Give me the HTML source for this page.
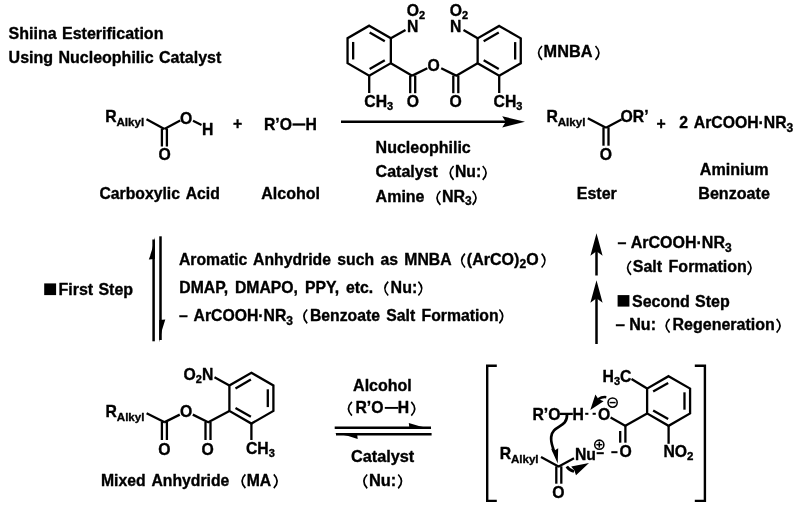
<!DOCTYPE html>
<html><head><meta charset="utf-8"><title>Shiina Esterification</title>
<style>
html,body{margin:0;padding:0;background:#fff;}
body{width:800px;height:508px;overflow:hidden;}
svg{display:block;filter:blur(0.35px);}
svg text{word-spacing:2px;font-family:"Liberation Sans",sans-serif;font-weight:bold;fill:#000;stroke:#000;stroke-width:0.35px;stroke-linejoin:round;white-space:pre;}
</style></head><body>
<svg width="800" height="508" viewBox="0 0 800 508">
<rect width="800" height="508" fill="#fff"/>
<text x="8.60" y="39.00" font-size="16" text-anchor="start" style="word-spacing:1px">Shiina Esterification</text>
<text x="8.60" y="62.60" font-size="16" text-anchor="start" style="word-spacing:1px">Using Nucleophilic Catalyst</text>
<text x="105.30" y="121.90" font-size="15.75" text-anchor="start" >R<tspan font-size="11.6" dx="-0.2" style="baseline-shift:-4.0px">Alkyl</tspan></text>
<line x1="146.50" y1="119.30" x2="164.40" y2="129.00" stroke="#000" stroke-width="2.3" stroke-linecap="butt"/>
<line x1="164.40" y1="129.00" x2="180.20" y2="120.60" stroke="#000" stroke-width="2.3" stroke-linecap="butt"/>
<text x="180.00" y="123.50" font-size="15.75" text-anchor="start" >O</text>
<line x1="193.00" y1="120.80" x2="201.50" y2="125.00" stroke="#000" stroke-width="2.3" stroke-linecap="butt"/>
<text x="202.00" y="134.60" font-size="15.75" text-anchor="start" >H</text>
<line x1="161.90" y1="128.50" x2="161.90" y2="146.50" stroke="#000" stroke-width="2.3" stroke-linecap="butt"/>
<line x1="166.90" y1="128.50" x2="166.90" y2="146.50" stroke="#000" stroke-width="2.3" stroke-linecap="butt"/>
<text x="158.60" y="160.00" font-size="15.75" text-anchor="start" >O</text>
<text x="233.00" y="129.00" font-size="15.75" text-anchor="start" >+</text>
<text x="264.00" y="130.00" font-size="15.75" text-anchor="start" >R’O</text>
<line x1="292.50" y1="124.50" x2="305.30" y2="124.50" stroke="#000" stroke-width="2.3" stroke-linecap="butt"/>
<text x="305.40" y="130.00" font-size="15.75" text-anchor="start" >H</text>
<text x="99.40" y="198.80" font-size="15.75" text-anchor="start" >Carboxylic Acid</text>
<text x="261.30" y="198.80" font-size="16" text-anchor="start" >Alcohol</text>
<path d="M369.20,25.70 L390.85,38.20 L390.85,63.20 L369.20,75.70 L347.55,63.20 L347.55,38.20 Z" fill="none" stroke="#000" stroke-width="2.3" stroke-linejoin="miter"/>
<line x1="369.65" y1="32.42" x2="384.80" y2="41.17" stroke="#000" stroke-width="2.3" stroke-linecap="butt"/>
<line x1="384.80" y1="60.23" x2="369.65" y2="68.98" stroke="#000" stroke-width="2.3" stroke-linecap="butt"/>
<line x1="353.15" y1="59.45" x2="353.15" y2="41.95" stroke="#000" stroke-width="2.3" stroke-linecap="butt"/>
<line x1="390.85" y1="38.20" x2="405.50" y2="30.00" stroke="#000" stroke-width="2.3" stroke-linecap="butt"/>
<text x="407.00" y="32.00" font-size="15.75" text-anchor="start" >N</text>
<text x="406.80" y="15.70" font-size="15.75" text-anchor="start" >O<tspan font-size="11" dx="0" style="baseline-shift:-2.8px">2</tspan></text>
<line x1="390.85" y1="63.20" x2="412.60" y2="75.90" stroke="#000" stroke-width="2.3" stroke-linecap="butt"/>
<line x1="412.30" y1="75.60" x2="427.30" y2="68.20" stroke="#000" stroke-width="2.3" stroke-linecap="butt"/>
<text x="427.60" y="70.60" font-size="15.75" text-anchor="start" >O</text>
<line x1="410.20" y1="75.50" x2="410.20" y2="93.20" stroke="#000" stroke-width="2.3" stroke-linecap="butt"/>
<line x1="415.20" y1="75.50" x2="415.20" y2="93.20" stroke="#000" stroke-width="2.3" stroke-linecap="butt"/>
<text x="406.80" y="107.00" font-size="15.75" text-anchor="start" >O</text>
<line x1="369.20" y1="75.75" x2="369.20" y2="93.00" stroke="#000" stroke-width="2.3" stroke-linecap="butt"/>
<text x="364.30" y="107.30" font-size="15.75" text-anchor="start" >CH<tspan font-size="11" dx="0" style="baseline-shift:-3px">3</tspan></text>
<path d="M499.20,25.90 L520.76,38.35 L520.76,63.25 L499.20,75.70 L477.64,63.25 L477.64,38.35 Z" fill="none" stroke="#000" stroke-width="2.3" stroke-linejoin="miter"/>
<line x1="515.16" y1="42.09" x2="515.16" y2="59.51" stroke="#000" stroke-width="2.3" stroke-linecap="butt"/>
<line x1="498.77" y1="68.98" x2="483.67" y2="60.27" stroke="#000" stroke-width="2.3" stroke-linecap="butt"/>
<line x1="483.67" y1="41.33" x2="498.77" y2="32.62" stroke="#000" stroke-width="2.3" stroke-linecap="butt"/>
<line x1="477.64" y1="38.35" x2="463.50" y2="30.00" stroke="#000" stroke-width="2.3" stroke-linecap="butt"/>
<text x="450.00" y="32.00" font-size="15.75" text-anchor="start" >N</text>
<text x="449.80" y="15.70" font-size="15.75" text-anchor="start" >O<tspan font-size="11" dx="0" style="baseline-shift:-2.8px">2</tspan></text>
<line x1="477.64" y1="63.25" x2="455.80" y2="75.90" stroke="#000" stroke-width="2.3" stroke-linecap="butt"/>
<line x1="456.10" y1="75.60" x2="441.20" y2="68.20" stroke="#000" stroke-width="2.3" stroke-linecap="butt"/>
<line x1="453.30" y1="75.50" x2="453.30" y2="93.20" stroke="#000" stroke-width="2.3" stroke-linecap="butt"/>
<line x1="458.30" y1="75.50" x2="458.30" y2="93.20" stroke="#000" stroke-width="2.3" stroke-linecap="butt"/>
<text x="449.60" y="107.00" font-size="15.75" text-anchor="start" >O</text>
<line x1="499.20" y1="75.70" x2="499.20" y2="93.00" stroke="#000" stroke-width="2.3" stroke-linecap="butt"/>
<text x="493.60" y="106.60" font-size="15.75" text-anchor="start" >CH<tspan font-size="11" dx="0" style="baseline-shift:-3px">3</tspan></text>
<path d="M542.00,46.00 Q535.20,52.90 542.00,59.80" fill="none" stroke="#000" stroke-width="1.65" />
<text x="543.60" y="57.20" font-size="16.3" text-anchor="start" >MNBA</text>
<path d="M595.50,46.00 Q602.30,52.90 595.50,59.80" fill="none" stroke="#000" stroke-width="1.65" />
<line x1="341.00" y1="121.80" x2="510.00" y2="121.80" stroke="#000" stroke-width="2.5" stroke-linecap="butt"/>
<path d="M525,121.8 L502.2,116.2 L505.8,121.8 L502.2,127.4 Z" fill="#000"  />
<text x="375.60" y="152.60" font-size="16" text-anchor="start" >Nucleophilic</text>
<text x="375.60" y="177.30" font-size="16" text-anchor="start" >Catalyst</text>
<path d="M453.60,166.00 Q446.80,172.90 453.60,179.80" fill="none" stroke="#000" stroke-width="1.65" />
<text x="455.00" y="177.30" font-size="15.75" text-anchor="start" >Nu:</text>
<path d="M482.70,166.00 Q489.50,172.90 482.70,179.80" fill="none" stroke="#000" stroke-width="1.65" />
<text x="375.60" y="202.30" font-size="16" text-anchor="start" >Amine</text>
<path d="M440.40,191.00 Q433.60,197.90 440.40,204.80" fill="none" stroke="#000" stroke-width="1.65" />
<text x="442.00" y="202.30" font-size="16" text-anchor="start" >NR<tspan font-size="12" dx="0" style="baseline-shift:-3.3px">3</tspan></text>
<path d="M472.60,191.00 Q479.40,197.90 472.60,204.80" fill="none" stroke="#000" stroke-width="1.65" />
<text x="546.50" y="121.50" font-size="15.75" text-anchor="start" >R<tspan font-size="11.6" dx="-0.2" style="baseline-shift:-4.0px">Alkyl</tspan></text>
<line x1="587.80" y1="118.20" x2="606.00" y2="127.80" stroke="#000" stroke-width="2.3" stroke-linecap="butt"/>
<line x1="606.00" y1="127.80" x2="621.50" y2="119.60" stroke="#000" stroke-width="2.3" stroke-linecap="butt"/>
<text x="620.50" y="121.90" font-size="15.75" text-anchor="start" >OR’</text>
<line x1="603.50" y1="127.30" x2="603.50" y2="145.70" stroke="#000" stroke-width="2.3" stroke-linecap="butt"/>
<line x1="608.50" y1="127.30" x2="608.50" y2="145.70" stroke="#000" stroke-width="2.3" stroke-linecap="butt"/>
<text x="599.80" y="159.80" font-size="15.75" text-anchor="start" >O</text>
<text x="656.60" y="128.80" font-size="15.75" text-anchor="start" >+</text>
<text x="679.30" y="127.80" font-size="15.75" text-anchor="start" >2 ArCOOH·NR<tspan font-size="12" dx="0" style="baseline-shift:-3.5px">3</tspan></text>
<text x="699.80" y="174.80" font-size="16.1" text-anchor="start" >Aminium</text>
<text x="698.30" y="198.70" font-size="16.1" text-anchor="start" >Benzoate</text>
<text x="576.80" y="198.70" font-size="16" text-anchor="start" >Ester</text>
<line x1="153.60" y1="239.50" x2="153.60" y2="341.30" stroke="#000" stroke-width="2.5" stroke-linecap="butt"/>
<path d="M154.85,237.2 L154.85,259 L148.8,259.5 Q152.6,250 154.85,237.2 Z" fill="#000"  />
<line x1="160.50" y1="236.30" x2="160.50" y2="340.00" stroke="#000" stroke-width="2.5" stroke-linecap="butt"/>
<path d="M159.25,342.3 L159.25,320 L165.3,319.5 Q161.5,330 159.25,342.3 Z" fill="#000"  />
<rect x="44.2" y="283.4" width="11.9" height="11.7" fill="#000"/>
<text x="58.50" y="294.90" font-size="16" text-anchor="start" style="word-spacing:0.8px">First Step</text>
<text x="179.00" y="265.00" font-size="15.75" text-anchor="start" >Aromatic Anhydride such as MNBA</text>
<path d="M465.00,253.70 Q458.20,260.60 465.00,267.50" fill="none" stroke="#000" stroke-width="1.65" />
<text x="466.80" y="265.00" font-size="16" text-anchor="start" >(ArCO)<tspan font-size="12" dx="0.3" style="baseline-shift:-3px">2</tspan>O</text>
<path d="M541.60,253.70 Q548.40,260.60 541.60,267.50" fill="none" stroke="#000" stroke-width="1.65" />
<text x="179.30" y="293.00" font-size="15.75" text-anchor="start" style="word-spacing:2.6px">DMAP, DMAPO, PPY, etc.</text>
<path d="M388.20,281.70 Q381.40,288.60 388.20,295.50" fill="none" stroke="#000" stroke-width="1.65" />
<text x="390.60" y="293.00" font-size="16" text-anchor="start" >Nu:</text>
<path d="M418.40,281.70 Q425.20,288.60 418.40,295.50" fill="none" stroke="#000" stroke-width="1.65" />
<text x="179.00" y="320.80" font-size="15.75" text-anchor="start" >– ArCOOH·NR<tspan font-size="12" dx="0" style="baseline-shift:-3.5px">3</tspan></text>
<path d="M307.20,309.50 Q300.40,316.40 307.20,323.30" fill="none" stroke="#000" stroke-width="1.65" />
<text x="309.90" y="320.80" font-size="15.75" text-anchor="start" >Benzoate Salt Formation</text>
<path d="M499.40,309.50 Q506.20,316.40 499.40,323.30" fill="none" stroke="#000" stroke-width="1.65" />
<line x1="596.50" y1="247.20" x2="596.50" y2="275.50" stroke="#000" stroke-width="2.5" stroke-linecap="butt"/>
<path d="M596.5,233.2 L602.6,255.7 L596.5,251.2 L590.4,255.7 Z" fill="#000"  />
<line x1="596.50" y1="294.30" x2="596.50" y2="344.00" stroke="#000" stroke-width="2.5" stroke-linecap="butt"/>
<path d="M596.5,280.3 L602.6,302.8 L596.5,298.3 L590.4,302.8 Z" fill="#000"  />
<text x="617.60" y="248.00" font-size="16" text-anchor="start" style="word-spacing:0.4px">– ArCOOH·NR<tspan font-size="12" dx="0" style="baseline-shift:-3.5px">3</tspan></text>
<path d="M631.00,261.00 Q624.20,267.90 631.00,274.80" fill="none" stroke="#000" stroke-width="1.65" />
<text x="632.80" y="272.30" font-size="16" text-anchor="start" >Salt Formation</text>
<path d="M747.60,261.00 Q754.40,267.90 747.60,274.80" fill="none" stroke="#000" stroke-width="1.65" />
<rect x="617.6" y="295.1" width="11.8" height="11.5" fill="#000"/>
<text x="632.00" y="306.80" font-size="16" text-anchor="start" style="word-spacing:0.8px">Second Step</text>
<text x="615.60" y="330.40" font-size="17" text-anchor="start" >–</text>
<text x="629.30" y="330.40" font-size="16" text-anchor="start" >Nu:</text>
<path d="M669.60,318.90 Q662.80,325.80 669.60,332.70" fill="none" stroke="#000" stroke-width="1.65" />
<text x="672.50" y="330.40" font-size="16" text-anchor="start" >Regeneration</text>
<path d="M776.60,318.90 Q783.40,325.80 776.60,332.70" fill="none" stroke="#000" stroke-width="1.65" />
<path d="M251.40,372.80 L273.40,385.50 L273.40,410.90 L251.40,423.60 L229.40,410.90 L229.40,385.50 Z" fill="none" stroke="#000" stroke-width="2.3" stroke-linejoin="miter"/>
<line x1="267.80" y1="389.31" x2="267.80" y2="407.09" stroke="#000" stroke-width="2.3" stroke-linecap="butt"/>
<line x1="250.90" y1="416.85" x2="235.50" y2="407.96" stroke="#000" stroke-width="2.3" stroke-linecap="butt"/>
<line x1="235.50" y1="388.44" x2="250.90" y2="379.55" stroke="#000" stroke-width="2.3" stroke-linecap="butt"/>
<line x1="229.40" y1="385.50" x2="214.50" y2="377.30" stroke="#000" stroke-width="2.3" stroke-linecap="butt"/>
<text x="183.60" y="380.00" font-size="15.75" text-anchor="start" >O<tspan font-size="11" dx="0" style="baseline-shift:-2.8px">2</tspan>N</text>
<line x1="229.40" y1="410.90" x2="207.80" y2="422.40" stroke="#000" stroke-width="2.3" stroke-linecap="butt"/>
<line x1="208.20" y1="422.20" x2="192.80" y2="414.60" stroke="#000" stroke-width="2.3" stroke-linecap="butt"/>
<text x="180.00" y="417.00" font-size="15.75" text-anchor="start" >O</text>
<line x1="179.80" y1="414.60" x2="164.20" y2="422.40" stroke="#000" stroke-width="2.3" stroke-linecap="butt"/>
<line x1="164.60" y1="422.20" x2="146.60" y2="413.20" stroke="#000" stroke-width="2.3" stroke-linecap="butt"/>
<line x1="205.50" y1="422.00" x2="205.50" y2="440.00" stroke="#000" stroke-width="2.3" stroke-linecap="butt"/>
<line x1="210.50" y1="422.00" x2="210.50" y2="440.00" stroke="#000" stroke-width="2.3" stroke-linecap="butt"/>
<text x="201.50" y="454.80" font-size="15.75" text-anchor="start" >O</text>
<line x1="161.90" y1="422.00" x2="161.90" y2="440.00" stroke="#000" stroke-width="2.3" stroke-linecap="butt"/>
<line x1="166.90" y1="422.00" x2="166.90" y2="440.00" stroke="#000" stroke-width="2.3" stroke-linecap="butt"/>
<text x="158.20" y="454.80" font-size="15.75" text-anchor="start" >O</text>
<text x="105.60" y="416.50" font-size="15.75" text-anchor="start" >R<tspan font-size="11.6" dx="-0.2" style="baseline-shift:-4.0px">Alkyl</tspan></text>
<line x1="251.40" y1="423.60" x2="251.40" y2="440.00" stroke="#000" stroke-width="2.3" stroke-linecap="butt"/>
<text x="246.00" y="453.80" font-size="15.75" text-anchor="start" >CH<tspan font-size="11" dx="0" style="baseline-shift:-3px">3</tspan></text>
<text x="101.00" y="486.30" font-size="15.75" text-anchor="start" >Mixed Anhydride</text>
<path d="M245.40,474.30 Q238.60,481.20 245.40,488.10" fill="none" stroke="#000" stroke-width="1.65" />
<text x="246.70" y="486.40" font-size="15.75" text-anchor="start" >MA</text>
<path d="M273.80,474.30 Q280.60,481.20 273.80,488.10" fill="none" stroke="#000" stroke-width="1.65" />
<text x="353.10" y="391.00" font-size="16" text-anchor="start" >Alcohol</text>
<path d="M351.90,401.90 Q345.10,408.80 351.90,415.70" fill="none" stroke="#000" stroke-width="1.65" />
<text x="355.50" y="413.20" font-size="15.75" text-anchor="start" >R’</text>
<text x="371.30" y="413.20" font-size="15.75" text-anchor="start" >O</text>
<line x1="384.80" y1="407.90" x2="398.20" y2="407.90" stroke="#000" stroke-width="1.9" stroke-linecap="butt"/>
<text x="397.70" y="413.20" font-size="15.75" text-anchor="start" >H</text>
<path d="M411.30,401.90 Q418.10,408.80 411.30,415.70" fill="none" stroke="#000" stroke-width="1.65" />
<line x1="334.70" y1="427.70" x2="431.00" y2="427.70" stroke="#000" stroke-width="2.5" stroke-linecap="butt"/>
<path d="M431.5,428.9 L409.5,428.9 L408.8,423 Q420,426.8 431.5,428.9 Z" fill="#000"  />
<line x1="336.00" y1="434.30" x2="431.60" y2="434.30" stroke="#000" stroke-width="2.5" stroke-linecap="butt"/>
<path d="M334.5,433.1 L357,433.1 L357.7,439 Q346,435.2 334.5,433.1 Z" fill="#000"  />
<text x="350.90" y="462.20" font-size="16.3" text-anchor="start" >Catalyst</text>
<path d="M367.20,474.50 Q360.40,481.40 367.20,488.30" fill="none" stroke="#000" stroke-width="1.65" />
<text x="368.90" y="486.00" font-size="16.4" text-anchor="start" >Nu:</text>
<path d="M398.20,474.50 Q405.00,481.40 398.20,488.30" fill="none" stroke="#000" stroke-width="1.65" />
<path d="M496.8,365.7 L487.2,365.7 L487.2,500.9 L496.8,500.9" fill="none" stroke="#000" stroke-width="2.4" />
<path d="M694.8,365.7 L704.9,365.7 L704.9,500.9 L694.8,500.9" fill="none" stroke="#000" stroke-width="2.4" />
<path d="M668.60,376.20 L690.08,388.60 L690.08,413.40 L668.60,425.80 L647.12,413.40 L647.12,388.60 Z" fill="none" stroke="#000" stroke-width="2.3" stroke-linejoin="miter"/>
<line x1="684.48" y1="392.32" x2="684.48" y2="409.68" stroke="#000" stroke-width="2.3" stroke-linecap="butt"/>
<line x1="668.18" y1="419.09" x2="653.14" y2="410.41" stroke="#000" stroke-width="2.3" stroke-linecap="butt"/>
<line x1="653.14" y1="391.59" x2="668.18" y2="382.91" stroke="#000" stroke-width="2.3" stroke-linecap="butt"/>
<line x1="647.12" y1="388.60" x2="631.50" y2="379.00" stroke="#000" stroke-width="2.3" stroke-linecap="butt"/>
<text x="602.60" y="382.00" font-size="15.75" text-anchor="start" >H<tspan font-size="11" dx="0" style="baseline-shift:-3px">3</tspan>C</text>
<line x1="668.60" y1="425.50" x2="668.60" y2="443.80" stroke="#000" stroke-width="2.3" stroke-linecap="butt"/>
<text x="663.40" y="457.00" font-size="15.75" text-anchor="start" >NO<tspan font-size="11.5" dx="0" style="baseline-shift:-3px">2</tspan></text>
<line x1="647.12" y1="413.40" x2="624.90" y2="426.10" stroke="#000" stroke-width="2.3" stroke-linecap="butt"/>
<line x1="625.60" y1="425.90" x2="610.60" y2="417.40" stroke="#000" stroke-width="2.3" stroke-linecap="butt"/>
<text x="597.90" y="419.80" font-size="15.75" text-anchor="start" >O</text>
<line x1="625.40" y1="425.20" x2="625.40" y2="442.70" stroke="#000" stroke-width="2.3" stroke-linecap="butt"/>
<line x1="620.20" y1="431.00" x2="620.20" y2="442.70" stroke="#000" stroke-width="2.3" stroke-linecap="butt"/>
<text x="619.40" y="456.90" font-size="15.75" text-anchor="start" >O</text>
<line x1="611.30" y1="452.20" x2="617.50" y2="452.20" stroke="#000" stroke-width="2" stroke-linecap="butt"/>
<text x="575.00" y="459.60" font-size="15.75" text-anchor="start" >Nu</text>
<line x1="596.60" y1="453.20" x2="603.80" y2="453.20" stroke="#000" stroke-width="2" stroke-linecap="butt"/>
<circle cx="612.6" cy="402.6" r="4.6" fill="none" stroke="#000" stroke-width="1.55"/>
<line x1="609.60" y1="402.60" x2="615.60" y2="402.60" stroke="#000" stroke-width="1.5" stroke-linecap="butt"/>
<circle cx="599.3" cy="444.7" r="4.6" fill="none" stroke="#000" stroke-width="1.55"/>
<line x1="596.30" y1="444.70" x2="602.30" y2="444.70" stroke="#000" stroke-width="1.5" stroke-linecap="butt"/>
<line x1="599.30" y1="441.70" x2="599.30" y2="447.70" stroke="#000" stroke-width="1.5" stroke-linecap="butt"/>
<text x="532.50" y="419.70" font-size="15.75" text-anchor="start" >R’O</text>
<line x1="560.00" y1="413.90" x2="572.80" y2="413.90" stroke="#000" stroke-width="2.3" stroke-linecap="butt"/>
<text x="572.60" y="419.70" font-size="15.75" text-anchor="start" >H</text>
<line x1="585.20" y1="413.80" x2="588.40" y2="413.80" stroke="#000" stroke-width="2" stroke-linecap="butt"/>
<line x1="592.60" y1="413.80" x2="595.80" y2="413.80" stroke="#000" stroke-width="2" stroke-linecap="butt"/>
<text x="499.70" y="458.60" font-size="15.75" text-anchor="start" >R<tspan font-size="11.6" dx="-0.2" style="baseline-shift:-4.0px">Alkyl</tspan></text>
<line x1="541.00" y1="457.00" x2="558.90" y2="466.70" stroke="#000" stroke-width="2.3" stroke-linecap="butt"/>
<line x1="558.30" y1="466.70" x2="574.00" y2="458.30" stroke="#000" stroke-width="2.3" stroke-linecap="butt"/>
<line x1="556.30" y1="466.30" x2="556.30" y2="483.70" stroke="#000" stroke-width="2.3" stroke-linecap="butt"/>
<line x1="561.30" y1="466.30" x2="561.30" y2="483.70" stroke="#000" stroke-width="2.3" stroke-linecap="butt"/>
<text x="552.30" y="497.80" font-size="15.75" text-anchor="start" >O</text>
<path d="M606.3,397.2 Q602,396.6 598.3,399.3" fill="none" stroke="#000" stroke-width="2.5" />
<path d="M590.3,410 L595.4,394.5 L598.3,398.9 L603.6,401.2 Z" fill="#000"  />
<path d="M567,414.5 C567.5,428.5 552.5,424.5 551.2,437 C550.6,443 552.8,447 554.3,452" fill="none" stroke="#000" stroke-width="2.7" />
<path d="M557.7,463.5 L551,448.5 L554.6,450.5 L558.2,448.3 Z" fill="#000"  />
<path d="M566.8,466.6 Q569,470.2 574,471.5" fill="none" stroke="#000" stroke-width="2.8" />
<path d="M589,463 L571.2,466.6 L574.3,470.3 L576,475.3 Z" fill="#000"  />
</svg>
</body></html>
